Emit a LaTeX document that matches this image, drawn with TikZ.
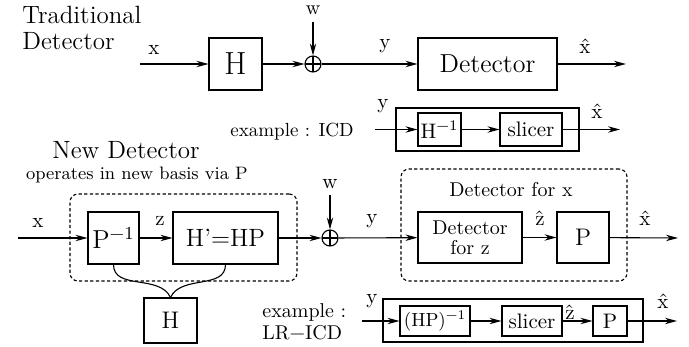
\documentclass[tikz,border=0pt]{standalone}
\usepackage{fontspec}
\usetikzlibrary{arrows.meta,positioning}
\newcommand{\fs}[1]{\fontsize{#1}{#1}\selectfont}
\tikzset{blockbox/.style={draw, line width=0.55pt, inner sep=0pt, align=center},
  sumnode/.style={draw, circle, line width=0.55pt, minimum size=8pt, inner sep=0pt,
    path picture={\draw[line width=0.55pt] (path picture bounding box.north) -- (path picture bounding box.south)
      (path picture bounding box.west) -- (path picture bounding box.east);}},
  dashbox/.style={draw, line width=0.55pt, dash pattern=on 1.6pt off 1.2pt, rounded corners=4pt, inner sep=0pt},
  sigarrow/.style={-{Stealth[length=6pt,width=3.2pt]}, line width=0.55pt},
  sig/.style={inner sep=0pt, font=\fs{10.5}},
  blockdiag/.style={x=0.5pt, y=-0.5pt}}

\begin{document}
\begin{tikzpicture}[blockdiag]
    \useasboundingbox (0,0) rectangle (689,347);
    % traditional detector
    \node[anchor=north west, inner sep=0pt, align=left, font=\fs{12.5}] (tt) at (22,6) {Traditional\\[0.5pt]Detector};
    \coordinate (xin1) at (140,64);
    \node[blockbox, minimum width=26.5pt, minimum height=26pt, font=\fs{16}] (h1) at (235.5,64) {H};
    \node[sumnode] (s1) at (313,64) {};
    \coordinate (win1) at (313,22);
    \node[blockbox, minimum width=69.5pt, minimum height=26pt, font=\fs{13}] (det) at (487.5,64) {Detector};
    \coordinate (xout1) at (626,64);
    \node[sig] at (154,50) {x};
    \node[sig, font=\fs{10}] at (313,10) {w};
    \node[sig] at (385,46) {y};
    \node[sig] at (585,46) {\^{x}};
    \draw[sigarrow] (xin1) -- (h1);
    \draw[sigarrow] (h1) -- (s1);
    \draw[sigarrow] (win1) -- (s1);
    \draw[sigarrow] (s1) -- (det);
    \draw[sigarrow] (det) -- (xout1);
    % example : ICD
    \node[inner sep=0pt, font=\fs{9.5}] (ex1) at (292,132) {example : ICD};
    \node[blockbox, minimum width=91.5pt, minimum height=21.5pt] (icd) at (487.5,129.5) {};
    \node[blockbox, minimum width=21.5pt, minimum height=16.5pt, font=\fs{10.5}] (hinv) at (439.5,129.5) {H\textsuperscript{−1}};
    \node[blockbox, minimum width=31pt, minimum height=16.5pt, font=\fs{10.5}] (slc1) at (531,129.5) {slicer};
    \coordinate (icdin) at (375,129.5);
    \coordinate (icdout) at (620,129.5);
    \node[sig] at (383,106) {y};
    \node[sig] at (597,111) {\^{x}};
    \draw[sigarrow] (icdin) -- (hinv);
    \draw[sigarrow] (hinv) -- (slc1);
    \draw[sigarrow] (slc1) -- (icdout);
    % new detector
    \node[inner sep=0pt, font=\fs{12.5}] (nd) at (126,150) {New Detector};
    \node[inner sep=0pt, font=\fs{9}] (ops) at (137,175) {operates in new basis via P};
    \node[dashbox, minimum width=113.5pt, minimum height=43.5pt] (dl) at (183.5,237.5) {};
    \node[blockbox, minimum width=25.5pt, minimum height=26pt, font=\fs{13}] (pinv) at (113.5,238) {P\textsuperscript{−1}};
    \node[blockbox, minimum width=52.5pt, minimum height=26pt, font=\fs{12.5}] (hp) at (225.5,238) {H’=HP};
    \node[blockbox, minimum width=26.5pt, minimum height=22.5pt, font=\fs{12}] (h2) at (170.5,320.5) {H};
    \node[sumnode] (s2) at (330,238) {};
    \coordinate (xin2) at (18,238);
    \coordinate (win2) at (330,195);
    \node[dashbox, minimum width=113pt, minimum height=56pt] (dr) at (514,225) {};
    \node[inner sep=0pt, font=\fs{10}] (dfx) at (511,190) {Detector for x};
    \node[blockbox, minimum width=52pt, minimum height=25.5pt, font=\fs{10}] (detz) at (470,237.5) {Detector\\for z};
    \node[blockbox, minimum width=26pt, minimum height=25.5pt, font=\fs{12}] (p1) at (583,237.5) {P};
    \coordinate (xout2) at (678,238);
    \node[sig] at (38,223) {x};
    \node[sig] at (160,221) {z};
    \node[sig] at (330,184) {w};
    \node[sig] at (372,221) {y};
    \node[sig] at (540,218) {\^{z}};
    \node[sig] at (645,218) {\^{x}};
    \draw[sigarrow] (xin2) -- (pinv);
    \draw[sigarrow] (pinv) -- (hp);
    \draw[sigarrow] (hp) -- (s2);
    \draw[sigarrow] (win2) -- (s2);
    \draw[sigarrow] (s2) -- (detz);
    \draw[sigarrow] (detz) -- (p1);
    \draw[sigarrow] (p1) -- (xout2);
    \draw[line width=0.55pt] (pinv.south) to[out=-90,in=115] (h2.north);
    \draw[line width=0.55pt] (hp.south) to[out=-90,in=65] (h2.north);
    % example : LR-ICD
    \node[anchor=west, inner sep=0pt, align=left, font=\fs{10}] (ex2) at (262,322) {example :\\[1pt]LR−ICD};
    \node[blockbox, minimum width=130pt, minimum height=21.5pt] (lr) at (513,320.5) {};
    \node[blockbox, minimum width=35pt, minimum height=15pt, font=\fs{9.5}] (hpinv) at (435,321) {(HP)\textsuperscript{−1}};
    \node[blockbox, minimum width=30pt, minimum height=15pt, font=\fs{10.5}] (slc2) at (532,321) {slicer};
    \node[blockbox, minimum width=17pt, minimum height=15pt, font=\fs{10.5}] (p2) at (610,321) {P};
    \coordinate (lrin) at (362,321);
    \coordinate (lrout) at (677,321);
    \node[sig] at (372,301) {y};
    \node[sig] at (570,312) {\^{z}};
    \node[sig] at (663,301) {\^{x}};
    \draw[sigarrow] (lrin) -- (hpinv);
    \draw[sigarrow] (hpinv) -- (slc2);
    \draw[sigarrow] (slc2) -- (p2);
    \draw[sigarrow] (p2) -- (lrout);
\end{tikzpicture}
\end{document}
